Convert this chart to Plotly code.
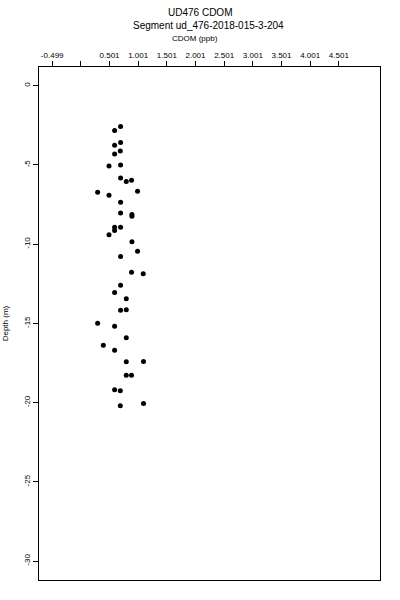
import plotly.graph_objects as go

# Data
cdom = [0.694, 0.590, 0.694, 0.590, 0.689, 0.590, 0.492, 0.694, 0.694, 0.793,
        0.885, 0.294, 0.492, 0.990, 0.694, 0.694, 0.892, 0.892, 0.590, 0.694,
        0.590, 0.492, 0.892, 0.990, 0.694, 0.885, 1.089, 0.694, 0.590, 0.793,
        0.694, 0.793, 0.294, 0.590, 0.793, 0.393, 0.590, 0.793, 1.094, 0.793,
        0.885, 0.590, 0.689, 0.689, 1.094]
depth = [-2.57, -2.82, -3.58, -3.76, -4.12, -4.31, -5.06, -5.00, -5.82, -6.05,
         -5.97, -6.73, -6.92, -6.66, -7.36, -8.03, -8.13, -8.24, -8.93, -8.93,
         -9.14, -9.41, -9.85, -10.45, -10.78, -11.77, -11.87, -12.59, -13.05, -13.45,
         -14.17, -14.14, -14.99, -15.18, -15.91, -16.37, -16.69, -17.42, -17.40, -18.27,
         -18.27, -19.19, -19.25, -20.20, -20.05]

x_tickvals = [-0.499, 0.001, 0.501, 1.001, 1.501, 2.001, 2.501, 3.001, 3.501, 4.001, 4.501]
x_ticktext = ["-0.499", "", "0.501", "1.001", "1.501", "2.001", "2.501", "3.001", "3.501", "4.001", "4.501"]
y_tickvals = [0, -5, -10, -15, -20, -25, -30]
y_ticktext = ["0", "-5", "-10", "-15", "-20", "-25", "-30"]

title1 = "UD476 CDOM"
title2 = "Segment ud_476-2018-015-3-204"
x_title = "CDOM (ppb)"
y_title = "Depth (m)"

FONT = "Liberation Sans, Arial, sans-serif"

fig = go.Figure()
fig.add_trace(go.Scatter(
    x=cdom, y=depth, mode="markers",
    marker=dict(color="black", size=5, symbol="circle"),
    showlegend=False,
))

L, R, T, B = 38.5, 380.5, 67, 580.5
W, H = 400, 600
pw, ph = R - L, B - T

def px(x):
    return (x - L) / pw

def py(y):
    return (B - y) / ph

fig.update_layout(
    width=W, height=H,
    margin=dict(l=L, r=W - R, t=T, b=H - B, pad=0),
    paper_bgcolor="white", plot_bgcolor="white",
    font=dict(family=FONT, color="black", size=8),
    xaxis=dict(
        side="top", range=[-0.729, 5.219],
        tickmode="array", tickvals=x_tickvals, ticktext=x_ticktext,
        ticks="outside", ticklen=5, tickwidth=1, tickcolor="black",
        showline=True, linecolor="black", linewidth=1, mirror=True,
        showgrid=False, zeroline=False,
        tickfont=dict(size=8, family=FONT),
    ),
    yaxis=dict(
        range=[-31.19, 1.18],
        tickmode="array", tickvals=y_tickvals, ticktext=y_ticktext,
        ticks="outside", ticklen=5, tickwidth=1, tickcolor="black",
        tickangle=-90,
        showline=True, linecolor="black", linewidth=1, mirror=True,
        showgrid=False, zeroline=False,
        tickfont=dict(size=8, family=FONT),
    ),
    annotations=[
        dict(text=title1, x=px(200), y=py(12), xref="paper", yref="paper",
             showarrow=False, xanchor="center", yanchor="middle",
             font=dict(size=10, family=FONT)),
        dict(text=title2, x=px(208), y=py(25.5), xref="paper", yref="paper",
             showarrow=False, xanchor="center", yanchor="middle",
             font=dict(size=10, family=FONT)),
        dict(text=x_title, x=px(195), y=py(38.5), xref="paper", yref="paper",
             showarrow=False, xanchor="center", yanchor="middle",
             font=dict(size=8, family=FONT)),
        dict(text=y_title, x=px(5), y=py(324), xref="paper", yref="paper",
             showarrow=False, xanchor="center", yanchor="middle", textangle=-90,
             font=dict(size=8, family=FONT)),
    ],
)

fig.write_html("out.html",
               config={"displayModeBar": False},
               post_script="document.body.style.margin='0';document.body.style.padding='0';")
